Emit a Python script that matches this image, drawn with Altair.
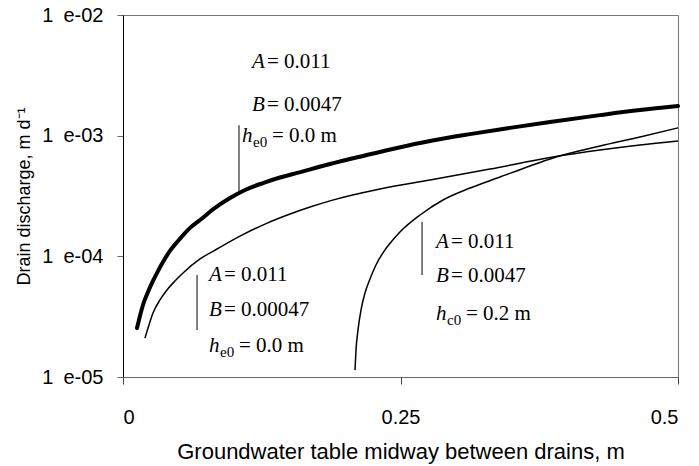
import altair as alt
import pandas as pd

# Curve 1: A = 0.011, B = 0.0047, he0 = 0.0 m (thick line)
x1 = [0.0126, 0.0153, 0.0180, 0.0225, 0.0270, 0.0315, 0.0360, 0.0423, 0.0486, 0.0550,
      0.0604, 0.0694, 0.0829, 0.0964, 0.1099, 0.1261, 0.1414, 0.1568, 0.1865, 0.2162,
      0.2468, 0.2766, 0.3126, 0.3486, 0.3847, 0.4297, 0.4658, 0.5]
q1 = [2.55e-5, 3.21e-5, 3.95e-5, 5.06e-5, 6.25e-5, 7.55e-5, 8.97e-5, 1.11e-4, 1.31e-4, 1.53e-4,
      1.72e-4, 2.00e-4, 2.52e-4, 3.04e-4, 3.55e-4, 4.05e-4, 4.50e-4, 4.91e-4, 5.82e-4, 6.79e-4,
      7.91e-4, 9.03e-4, 1.03e-3, 1.16e-3, 1.30e-3, 1.48e-3, 1.63e-3, 1.76e-3]

# Curve 2: A = 0.011, B = 0.00047, he0 = 0.0 m
x2 = [0.0198, 0.0234, 0.0270, 0.0333, 0.0396, 0.0468, 0.0541, 0.0694, 0.0847, 0.1054,
      0.1279, 0.1505, 0.1685, 0.1865, 0.2315, 0.2766, 0.3306, 0.3874, 0.4297, 0.4658, 0.5]
q2 = [2.10e-5, 2.70e-5, 3.39e-5, 4.35e-5, 5.26e-5, 6.25e-5, 7.28e-5, 9.51e-5, 1.15e-4, 1.47e-4,
      1.85e-4, 2.24e-4, 2.56e-4, 2.88e-4, 3.61e-4, 4.29e-4, 5.29e-4, 6.65e-4, 7.60e-4, 8.37e-4, 9.03e-4]

# Curve 3: A = 0.011, B = 0.0047, he0 = 0.2 m
x3 = [0.2090, 0.2099, 0.2117, 0.2144, 0.2180, 0.2225, 0.2279, 0.2342, 0.2414, 0.2495,
      0.2676, 0.2883, 0.3126, 0.3396, 0.3667, 0.3874, 0.4297, 0.4658, 0.5]
q3 = [1.14e-5, 1.67e-5, 2.45e-5, 3.59e-5, 4.97e-5, 6.49e-5, 8.48e-5, 1.07e-4, 1.31e-4, 1.59e-4,
      2.20e-4, 2.93e-4, 3.68e-4, 4.54e-4, 5.61e-4, 6.53e-4, 8.20e-4, 9.75e-4, 1.16e-3]

# Annotations
ann_letter = ["A", "B", "h", "A", "B", "h", "A", "B", "h"]
ann_sub = ["", "", "e0", "", "", "e0", "", "", "c0"]
ann_rest = ["= 0.011", "= 0.0047", "= 0.0 m",
            "= 0.011", "= 0.00047", "= 0.0 m",
            "= 0.011", "= 0.0047", "= 0.2 m"]
ann_x = [0.1162, 0.1162, 0.1072, 0.0775, 0.0775, 0.0775, 0.282, 0.282, 0.282]
ann_y = [4.09e-3, 1.80e-3, 9.93e-4, 7.0e-5, 3.59e-5, 1.81e-5, 1.31e-4, 6.87e-5, 3.33e-5]

# Annotation bracket lines
rule_x = [0.1045, 0.0667, 0.2694]
rule_y1 = [1.22e-3, 7.0e-5, 1.93e-4]
rule_y2 = [3.41e-4, 2.45e-5, 7.0e-5]

x_ticks = [0, 0.25, 0.5]
y_ticks = [1e-5, 1e-4, 1e-3, 1e-2]

curves = pd.concat([
    pd.DataFrame({"x": x1, "q": q1, "series": "c1"}),
    pd.DataFrame({"x": x2, "q": q2, "series": "c2"}),
    pd.DataFrame({"x": x3, "q": q3, "series": "c3"}),
])
ann = pd.DataFrame({"x": ann_x, "y": ann_y, "letter": ann_letter,
                    "sub": ann_sub, "rest": ann_rest})
rules = pd.DataFrame({"x": rule_x, "y1": rule_y1, "y2": rule_y2})

xscale = alt.Scale(domain=[0, 0.5], nice=False, zero=False)
yscale = alt.Scale(type="log", domain=[1e-5, 1e-2], nice=False)

xaxis = alt.Axis(values=x_ticks, format="~g", grid=False, tickSize=7,
                 labelFont="Liberation Sans", labelFontSize=20, labelColor="#000",
                 labelPadding=23, domainColor="#666", tickColor="#444",
                 title="Groundwater table midway between drains, m",
                 titleFont="Liberation Sans", titleFontSize=22, titleFontWeight="normal",
                 titleColor="#000", titleX=277.5, titleY=81, titleBaseline="alphabetic",
                 titleAlign="center")
yaxis = alt.Axis(values=y_ticks, grid=False, tickSize=6,
                 labelExpr="'1\u2002e-0' + round(-log(datum.value)/LN10)",
                 labelFont="Liberation Sans", labelFontSize=20, labelColor="#000",
                 labelPadding=14, domainColor="#000", tickColor="#666",
                 title="Drain discharge, m d\u207B\u00B9",
                 titleFont="Liberation Sans", titleFontSize=18, titleFontWeight="normal",
                 titleColor="#000", titleX=-99, titleY=181, titleAngle=270,
                 titleBaseline="middle", titleAlign="center")

base_x = alt.X("x:Q", scale=xscale, axis=xaxis)
base_y = alt.Y("q:Q", scale=yscale, axis=yaxis)

thick = alt.Chart(curves).transform_filter("datum.series == 'c1'").mark_line(
    color="black", strokeWidth=4, strokeJoin="round", strokeCap="round", interpolate="monotone"
).encode(x=base_x, y=base_y)

thin = alt.Chart(curves).transform_filter("datum.series != 'c1'").mark_line(
    color="black", strokeWidth=1.5, interpolate="monotone"
).encode(x=alt.X("x:Q", scale=xscale), y=alt.Y("q:Q", scale=yscale), detail="series:N")

rule_layer = alt.Chart(rules).mark_rule(color="black", strokeWidth=1).encode(
    x=alt.X("x:Q", scale=xscale), y=alt.Y("y1:Q", scale=yscale), y2="y2:Q")

tx = alt.X("x:Q", scale=xscale)
ty = alt.Y("y:Q", scale=yscale)
serif = "Liberation Serif"

letters = alt.Chart(ann).mark_text(
    font=serif, fontStyle="italic", fontSize=21, align="left", baseline="middle", color="black"
).encode(x=tx, y=ty, text="letter:N")

rest_ab = alt.Chart(ann).transform_filter("datum.sub == ''").mark_text(
    font=serif, fontSize=21, align="left", baseline="middle", color="black", dx=15
).encode(x=tx, y=ty, text="rest:N")

subs = alt.Chart(ann).transform_filter("datum.sub != ''").mark_text(
    font=serif, fontSize=15, align="left", baseline="middle", color="black", dx=11, dy=6
).encode(x=tx, y=ty, text="sub:N")

rest_h = alt.Chart(ann).transform_filter("datum.sub != ''").mark_text(
    font=serif, fontSize=21, align="left", baseline="middle", color="black", dx=30
).encode(x=tx, y=ty, text="rest:N")

chart = alt.layer(thick, thin, rule_layer, letters, rest_ab, subs, rest_h).properties(
    width=555, height=362,
    autosize=alt.AutoSizeParams(type="none"),
    padding={"left": 123, "top": 15, "right": 21, "bottom": 89},
    background="white",
).configure_view(stroke="#777", strokeWidth=1)

chart.save("out.html", embed_options={"renderer": "svg", "actions": False})
